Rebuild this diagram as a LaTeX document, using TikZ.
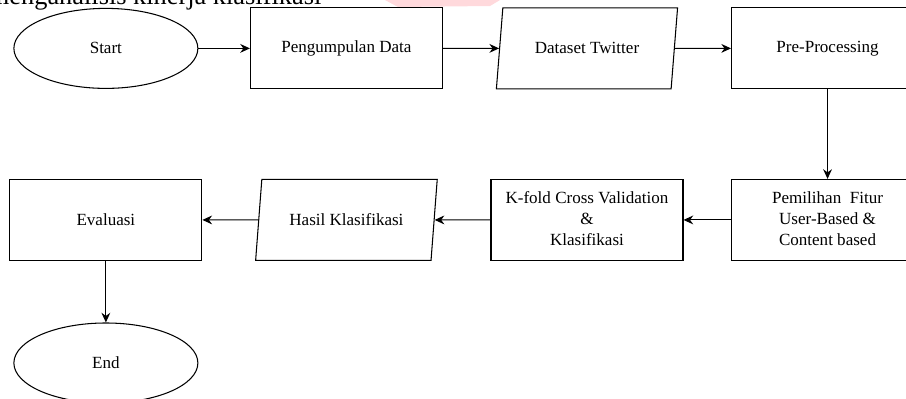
\documentclass[tikz,border=0pt]{standalone}
\usepackage{fontspec}
\setmainfont{Liberation Serif}
\usepackage{tikz}
\usetikzlibrary{matrix}
\usetikzlibrary{shapes.geometric}
\usetikzlibrary{arrows.meta}
\definecolor{merahmuda}{HTML}{FFD9DC}
\newcommand{\baris}[1]{\begin{tabular}{@{}c@{}}#1\end{tabular}}

\begin{document}
\begin{tikzpicture}[
    proses/.style={rectangle,draw,line width=0.6pt,minimum width=3.84cm,minimum height=1.62cm,inner sep=2pt},
    terminal/.style={ellipse,minimum width=3.68cm,minimum height=1.6cm},
    data/.style={trapezium,trapezium left angle=77,trapezium right angle=103,trapezium stretches=true,minimum width=3.64cm,minimum height=1.62cm},
    panah/.style={line width=0.6pt,-{Stealth[length=5.5pt,width=5pt]}}]
  \useasboundingbox (0,0) rectangle (18.12,-7.96);
  \fill[merahmuda] (7.7,0) -- (10.0,0) -- (9.8,-0.12) -- (7.96,-0.14) -- cycle;
  \node (judul) [anchor=base east,font=\fontsize{15}{18}\selectfont] at (6.55,-0.08) {menganalisis kinerja klasifikasi};
  \matrix (m) [matrix of nodes,inner sep=0pt,row sep=1.79cm,column sep=0.95cm,anchor=north west,
    nodes={proses,anchor=center,font=\fontsize{9.7}{12}\selectfont}] at (0.18,-0.14)
  { |[terminal]| Start & Pengumpulan Data & |[data]| Dataset Twitter & Pre-Processing \\
    Evaluasi & |[data]| Hasil Klasifikasi & \baris{K-fold Cross Validation\\ \&\\ Klasifikasi} & \baris{Pemilihan~~Fitur\\ User-Based \&\\ Content based} \\[-0.56cm]
    |[terminal]| End \\};
  \path[panah]
    (m-1-1) edge (m-1-2)
    (m-1-2) edge (m-1-3)
    (m-1-3) edge (m-1-4)
    (m-1-4) edge (m-2-4)
    (m-2-4) edge (m-2-3)
    (m-2-3) edge (m-2-2)
    (m-2-2) edge (m-2-1)
    (m-2-1) edge (m-3-1);
\end{tikzpicture}
\end{document}
